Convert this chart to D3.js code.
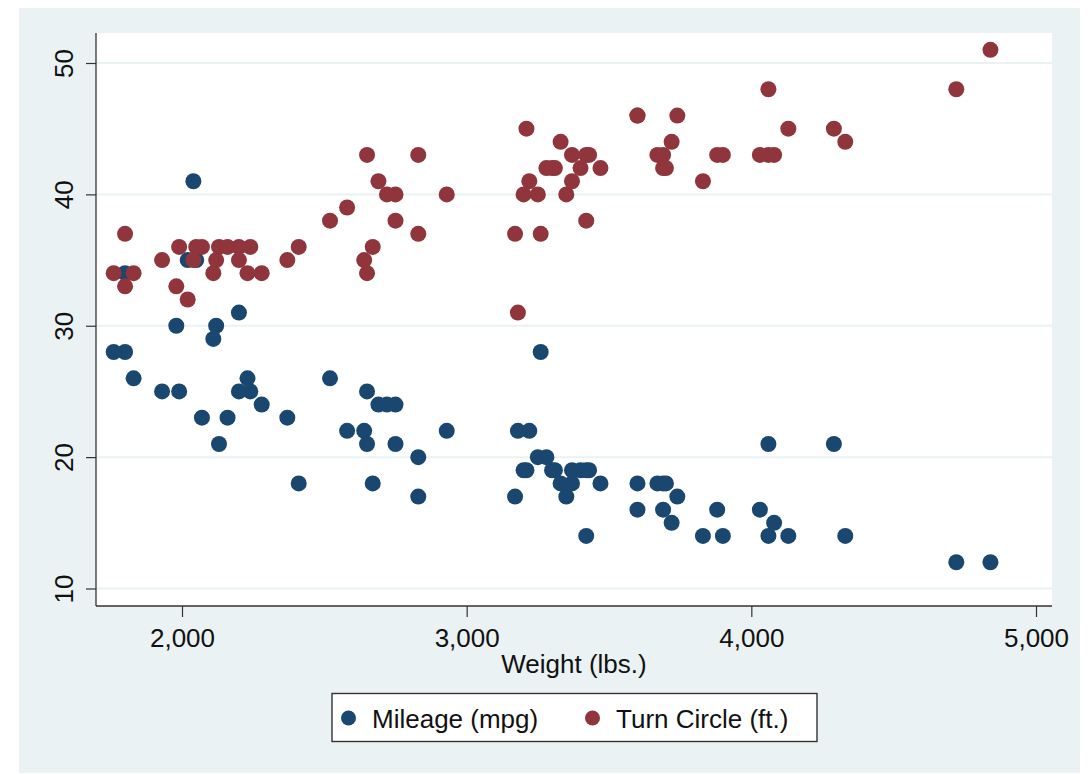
<!DOCTYPE html>
<html lang="en">
<head>
<meta charset="utf-8">
<script src="https://d3js.org/d3.v7.min.js"></script>
<style>
  body { margin: 0; background: #ffffff; }
  text { font-family: "Liberation Sans", Arial, sans-serif; fill: #111111; }
</style>
</head>
<body>
<svg id="my_dataviz" width="1089" height="774"></svg>
<script>

// Les données : poids, consommation (mpg) et rayon de braquage (turn) des 74 voitures
var weight = [2930, 3350, 2640, 3250, 4080, 3670, 2230, 3280, 3880, 3400,
              4330, 3900, 4290, 2110, 3690, 3180, 3220, 2750, 3430, 2120,
              3600, 3600, 3740, 1800, 2650, 4840, 4720, 3830, 2580, 4060,
              3720, 3370, 4130, 2830, 4060, 3310, 3300, 3690, 3370, 2720,
              4030, 3260, 1800, 2200, 2520, 3330, 3700, 3470, 3210, 3200,
              3420, 2690, 2830, 2070, 2650, 2370, 2020, 2280, 2750, 2130,
              2240, 1760, 1980, 3420, 1830, 2050, 2410, 2200, 2670, 2160,
              2040, 1930, 1990, 3170];
var mpg    = [22, 17, 22, 20, 15, 18, 26, 20, 16, 19,
              14, 14, 21, 29, 16, 22, 22, 24, 19, 30,
              18, 16, 17, 28, 21, 12, 12, 14, 22, 14,
              15, 18, 14, 20, 21, 19, 19, 18, 19, 24,
              16, 28, 34, 25, 26, 18, 18, 18, 19, 19,
              19, 24, 17, 23, 25, 23, 35, 24, 21, 21,
              25, 28, 30, 14, 26, 35, 18, 31, 18, 23,
              41, 25, 25, 17];
var turn   = [40, 40, 35, 40, 43, 43, 34, 42, 43, 42,
              44, 43, 45, 34, 43, 31, 41, 40, 43, 35,
              46, 46, 46, 33, 43, 51, 48, 41, 39, 43,
              44, 41, 45, 43, 48, 42, 42, 42, 43, 40,
              43, 37, 37, 36, 38, 44, 42, 42, 45, 40,
              43, 41, 37, 36, 34, 35, 32, 34, 38, 36,
              36, 34, 33, 38, 34, 36, 36, 35, 36, 36,
              35, 35, 36, 37];

var xTicks = [2000, 3000, 4000, 5000];
var yTicks = [10, 20, 30, 40, 50];
var seriesNames = ["Mileage (mpg)", "Turn Circle (ft.)"];
var seriesColors = ["#1a476f", "#90353b"];

var svg = d3.select("#my_dataviz");

// zone du graphique (fond gris bleu) et zone de tracé (blanche)
var plot = {left: 96, right: 1052, top: 33, bottom: 606};

svg.append("rect")
  .attr("x", 19).attr("y", 8)
  .attr("width", 1061).attr("height", 765)
  .attr("fill", "#eaf2f3");

svg.append("rect")
  .attr("x", plot.left).attr("y", plot.top)
  .attr("width", plot.right - plot.left).attr("height", plot.bottom - plot.top)
  .attr("fill", "#ffffff");

// échelles
var x = d3.scaleLinear().domain([2000, 5000]).range([182, 1036]);
var y = d3.scaleLinear().domain([10, 50]).range([588.5, 63]);

// lignes de la grille
svg.append("g")
  .selectAll("line")
  .data(yTicks)
  .enter().append("line")
    .attr("x1", plot.left).attr("x2", plot.right)
    .attr("y1", function(d) { return y(d); })
    .attr("y2", function(d) { return y(d); })
    .attr("stroke", "#eaf2f3")
    .attr("stroke-width", 2);

// axe des ordonnées
var yAxis = svg.append("g")
  .attr("transform", "translate(" + plot.left + ",0)")
  .call(d3.axisLeft(y).tickValues(yTicks).tickSize(10).tickPadding(0));
yAxis.select(".domain").remove();
yAxis.selectAll(".tick line").attr("stroke", "#333333").attr("stroke-width", 1.2);
yAxis.selectAll(".tick text")
  .attr("x", 0).attr("dy", 0)
  .attr("transform", "translate(-23,0) rotate(-90)")
  .attr("text-anchor", "middle")
  .style("font-size", "26px");

// axe des abscisses
var xAxis = svg.append("g")
  .attr("transform", "translate(0," + plot.bottom + ")")
  .call(d3.axisBottom(x).tickValues(xTicks).tickFormat(d3.format(",")).tickSize(11));
xAxis.select(".domain").remove();
xAxis.selectAll(".tick line").attr("stroke", "#333333").attr("stroke-width", 1.2);
xAxis.selectAll(".tick text")
  .attr("y", 40.5).attr("dy", 0)
  .style("font-size", "26px");

// lignes des axes
svg.append("line")
  .attr("x1", plot.left).attr("x2", plot.left)
  .attr("y1", plot.top).attr("y2", plot.bottom)
  .attr("stroke", "#333333").attr("stroke-width", 1.3);
svg.append("line")
  .attr("x1", plot.left).attr("x2", plot.right)
  .attr("y1", plot.bottom).attr("y2", plot.bottom)
  .attr("stroke", "#333333").attr("stroke-width", 1.3);

// titre de l'axe x
svg.append("text")
  .attr("x", (plot.left + plot.right) / 2)
  .attr("y", 673)
  .attr("text-anchor", "middle")
  .style("font-size", "26px")
  .text("Weight (lbs.)");

// les points : d'abord mpg, puis turn par dessus
var series = [mpg, turn];
series.forEach(function(values, k) {
  svg.append("g")
    .attr("fill", seriesColors[k])
    .selectAll("circle")
    .data(values)
    .enter().append("circle")
      .attr("cx", function(d, i) { return x(weight[i]); })
      .attr("cy", function(d) { return y(d); })
      .attr("r", 8);
});

// la légende
var legend = svg.append("g");
legend.append("rect")
  .attr("x", 332).attr("y", 693.5)
  .attr("width", 485).attr("height", 48)
  .attr("fill", "#ffffff")
  .attr("stroke", "#333333")
  .attr("stroke-width", 1.4);

var legendX = [348.5, 592.5];
legend.selectAll("circle")
  .data(seriesNames)
  .enter().append("circle")
    .attr("cx", function(d, i) { return legendX[i]; })
    .attr("cy", 718)
    .attr("r", 7.5)
    .attr("fill", function(d, i) { return seriesColors[i]; });

legend.selectAll("text")
  .data(seriesNames)
  .enter().append("text")
    .attr("x", function(d, i) { return legendX[i] + 23.5; })
    .attr("y", 728)
    .style("font-size", "26px")
    .text(function(d) { return d; });

</script>
</body>
</html>
